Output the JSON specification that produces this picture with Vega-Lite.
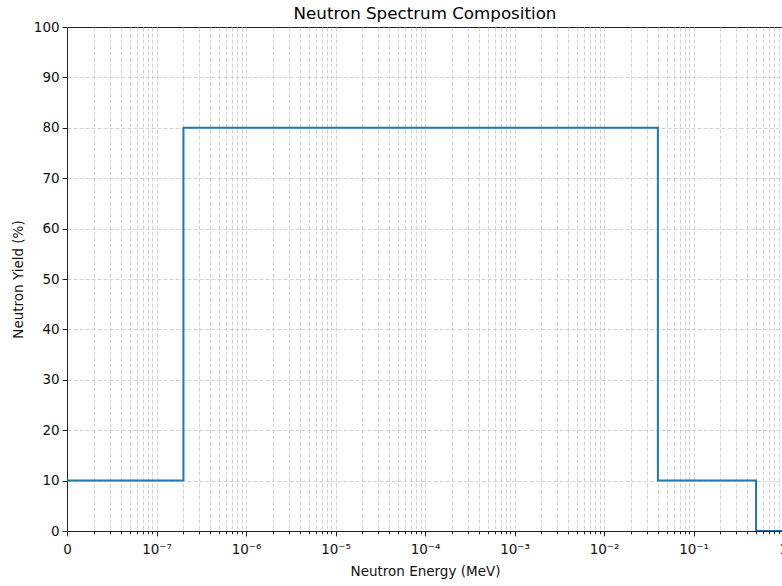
{
  "$schema": "https://vega.github.io/schema/vega-lite/v6.json",
  "autosize": "none",
  "padding": {"left": 67, "top": 27, "right": 0, "bottom": 55},
  "width": 716,
  "height": 504,
  "title": {"text": "Neutron Spectrum Composition", "fontSize": 16.7, "font": "DejaVu Sans", "fontWeight": "normal", "color": "#000", "offset": -3},
  "config": {
    "view": {"stroke": "#222", "strokeWidth": 1},
    "axis": {"labelFont": "DejaVu Sans", "titleFont": "DejaVu Sans", "labelFontSize": 13.5, "titleFontSize": 13.5, "titleFontWeight": "normal", "labelColor": "#111", "titleColor": "#111", "domainColor": "#222", "tickColor": "#222", "gridColor": "#c8c8c8", "gridDash": [4, 2], "gridWidth": 0.8}
  },
  "data": {"values": [
    {"E": 1e-8, "Y": 10},
    {"E": 2e-7, "Y": 80},
    {"E": 0.04, "Y": 10},
    {"E": 0.5, "Y": 0},
    {"E": 1, "Y": 0}
  ]},
  "layer": [
    {
      "mark": {"type": "line", "interpolate": "step-after", "color": "#1f77b4", "strokeWidth": 2, "clip": true},
      "encoding": {
        "x": {"field": "E", "type": "quantitative", "scale": {"type": "log", "domain": [1e-8, 1], "nice": false},
          "axis": {"orient": "bottom", "title": "Neutron Energy (MeV)", "titlePadding": 8, "values": [1e-8, 1e-7, 1e-6, 1e-5, 1e-4, 1e-3, 1e-2, 1e-1, 1],
            "labelExpr": "datum.value < 5e-8 ? '0' : datum.value > 0.5 ? '1' : '10⁻' + ['⁰','¹','²','³','⁴','⁵','⁶','⁷','⁸'][round(-log(datum.value)/LN10)]",
            "tickSize": 4.9, "labelPadding": 7, "grid": true, "domain": true, "labelFlush": false, "labelOverlap": false}},
        "y": {"field": "Y", "type": "quantitative", "scale": {"domain": [0, 100], "nice": false},
          "axis": {"title": "Neutron Yield (%)", "values": [0, 10, 20, 30, 40, 50, 60, 70, 80, 90, 100], "tickSize": 4.9, "labelPadding": 3, "grid": true, "titlePadding": 8,
            "gridOpacity": {"condition": {"test": "datum.value >= 100 || datum.value <= 0", "value": 0}, "value": 1}}}
      }
    },
    {
      "mark": {"type": "line", "strokeOpacity": 0},
      "encoding": {
        "x": {"field": "E", "type": "quantitative", "scale": {"type": "log", "domain": [1e-8, 1], "nice": false},
          "axis": {"orient": "bottom", "title": null, "labels": false, "domain": false, "tickSize": 2.8, "grid": true,
            "values": [2e-8,3e-8,4e-8,5e-8,6e-8,7e-8,8e-8,9e-8,2e-7,3e-7,4e-7,5e-7,6e-7,7e-7,8e-7,9e-7,2e-6,3e-6,4e-6,5e-6,6e-6,7e-6,8e-6,9e-6,2e-5,3e-5,4e-5,5e-5,6e-5,7e-5,8e-5,9e-5,0.0002,0.0003,0.0004,0.0005,0.0006,0.0007,0.0008,0.0009,0.002,0.003,0.004,0.005,0.006,0.007,0.008,0.009,0.02,0.03,0.04,0.05,0.06,0.07,0.08,0.09,0.2,0.3,0.4,0.5,0.6,0.7,0.8,0.9]}},
        "y": {"field": "Y", "type": "quantitative"}
      }
    }
  ],
  "resolve": {"axis": {"x": "independent"}}
}
